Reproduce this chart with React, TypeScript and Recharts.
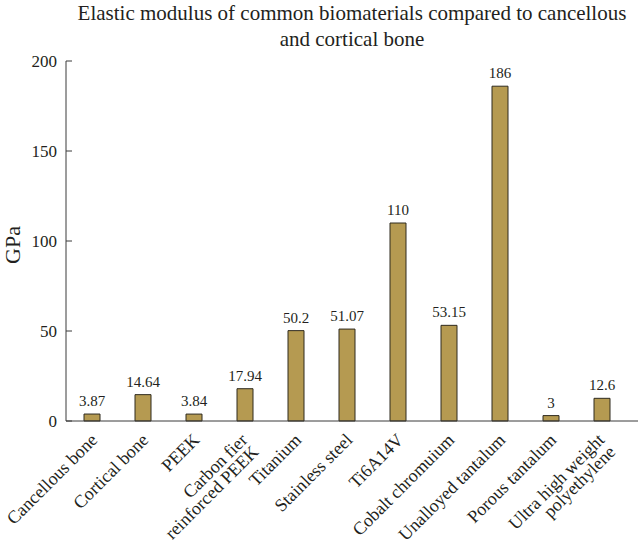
import { Bar, BarChart, LabelList, XAxis, YAxis } from 'recharts';

const categories = [
    'Cancellous bone',
    'Cortical bone',
    'PEEK',
    'Carbon fier\nreinforced PEEK',
    'Titanium',
    'Stainless steel',
    'Ti6A14V',
    'Cobalt chromuium',
    'Unalloyed tantalum',
    'Porous tantalum',
    'Ultra high weight\npolyethylene',
];
const modulus = [3.87, 14.64, 3.84, 17.94, 50.2, 51.07, 110, 53.15, 186, 3, 12.6];
const yTicks = [0, 50, 100, 150, 200];

const data = categories.map((name, i) => ({ name, value: modulus[i] }));

const FONT = '"Liberation Serif", "DejaVu Serif", serif';
const TEXT = '#231f20';
const AXIS = '#3a3a3a';

function XTick({ x, y, payload }: any) {
    const lines = String(payload.value).split('\n');
    // single lines end just right of the bar; two-line labels step down-right
    const bx = lines.length > 1 ? x + 4 : x + 7;
    const by = y + 12;
    return (
        <g>
            {lines.map((line, i) => {
                const lx = bx + i * 11;
                const ly = by + i * 12;
                return (
                    <text
                        key={i}
                        x={lx}
                        y={ly}
                        textAnchor="end"
                        transform={`rotate(-45 ${lx} ${ly})`}
                        fill={TEXT}
                        fontSize={18}
                        fontFamily={FONT}
                    >
                        {line}
                    </text>
                );
            })}
        </g>
    );
}

function YTick({ y, payload }: any) {
    return (
        <g>
            <line x1={66} x2={72} y1={y} y2={y} stroke={AXIS} strokeWidth={1} />
            <text
                x={57}
                y={y + 6}
                textAnchor="end"
                fill={TEXT}
                fontSize={17}
                fontFamily={FONT}
            >
                {payload.value}
            </text>
        </g>
    );
}

export default function App() {
    return (
        <div style={{ position: 'absolute', left: 0, top: 0, width: 638, height: 540, background: '#fff' }}>
            <div
                style={{
                    position: 'absolute',
                    left: 66,
                    width: 572,
                    top: 0,
                    textAlign: 'center',
                    fontFamily: 'Liberation Serif',
                    fontSize: 21,
                    lineHeight: '26px',
                    color: TEXT,
                }}
            >
                Elastic modulus of common biomaterials compared to cancellous
                <br />
                and cortical bone
            </div>
            <BarChart
                width={638}
                height={540}
                data={data}
                margin={{ top: 61, right: 0, left: 0, bottom: 0 }}
            >
                <XAxis
                    dataKey="name"
                    height={119}
                    interval={0}
                    padding={{ left: 0, right: 11 }}
                    axisLine={{ stroke: AXIS, strokeWidth: 1 }}
                    tickLine={false}
                    tick={<XTick />}
                />
                <YAxis
                    width={66}
                    domain={[0, 200]}
                    ticks={yTicks}
                    axisLine={{ stroke: AXIS, strokeWidth: 1 }}
                    tickLine={false}
                    tick={<YTick />}
                    label={() => (
                        <text
                            x={20}
                            y={245}
                            textAnchor="middle"
                            transform="rotate(-90 20 245)"
                            fill={TEXT}
                            fontSize={22}
                            fontFamily={FONT}
                        >
                            GPa
                        </text>
                    )}
                />
                <Bar
                    dataKey="value"
                    barSize={16}
                    fill="#b59a51"
                    stroke="#2e2a1e"
                    strokeWidth={1}
                    isAnimationActive={false}
                >
                    <LabelList
                        dataKey="value"
                        position="top"
                        offset={8}
                        fill={TEXT}
                        fontSize={15}
                        fontFamily={FONT}
                    />
                </Bar>
            </BarChart>
        </div>
    );
}
